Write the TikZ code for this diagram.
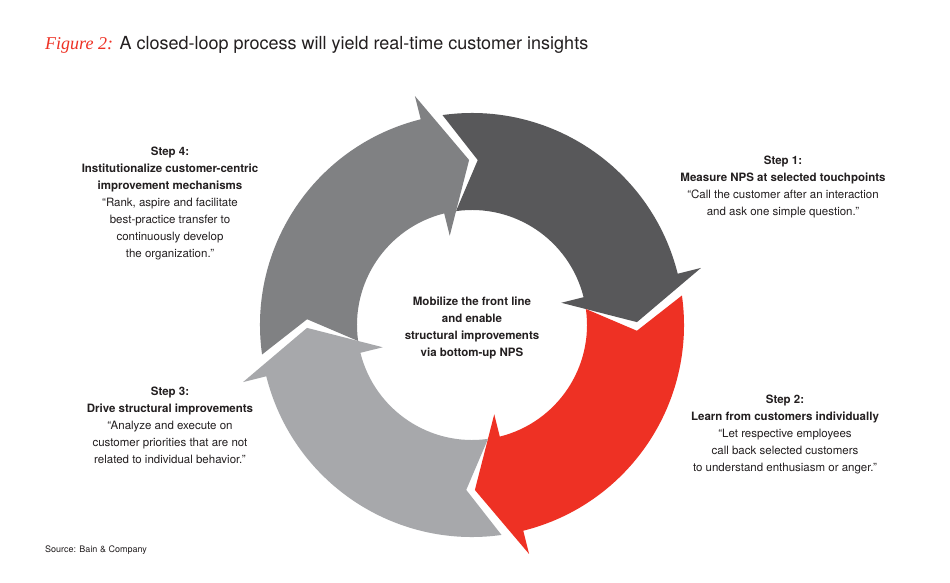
\documentclass[tikz,border=0pt]{standalone}
\usepackage{fontspec}
\setmainfont{TeX Gyre Heros}
\newfontfamily\scriptfnt{Liberation Serif}
\definecolor{cdark}{HTML}{58585A}
\definecolor{cred}{HTML}{EE3124}
\definecolor{cmid}{HTML}{808183}
\definecolor{clight}{HTML}{A7A8AB}
\definecolor{ctext}{HTML}{231F20}
\newcommand\cycarrow[2]{%
 \fill[#2] (#1:212pt) arc[start angle=#1, end angle=#1-84, radius=212pt]
   -- ({#1-84}:236pt) -- ({#1-97}:165pt) -- ({#1-84}:92pt) -- ({#1-84}:115pt)
   arc[start angle=#1-84, end angle=#1, radius=115pt] -- ({#1-10}:165pt) -- cycle;}
\tikzset{lbl/.style={align=center, text=ctext, font=\fontsize{11.5}{17}\selectfont, inner sep=0pt}}
\begin{document}
\begin{tikzpicture}[x=1pt,y=1pt]
\useasboundingbox[fill=white] (-472,-257) rectangle (478,325);
\cycarrow{98}{cdark}
\cycarrow{8}{cred}
\cycarrow{-82}{clight}
\cycarrow{188}{cmid}
\node[anchor=west, inner sep=0pt] (title) at (-427,280)
 {\fontsize{18}{20}\selectfont{\scriptfnt\itshape\color{cred}Figure 2:} \color{ctext}A closed-loop process will yield real-time customer insights};
\node[lbl] (center) at (0,-3) {\textbf{Mobilize the front line}\\ \textbf{and enable}\\ \textbf{structural improvements}\\ \textbf{via bottom-up NPS}};
\node[lbl] (s1) at (311,138) {\textbf{Step 1:}\\ \textbf{Measure NPS at selected touchpoints}\\ “Call the customer after an interaction\\ and ask one simple question.”};
\node[lbl] (s2) at (313,-109) {\textbf{Step 2:}\\ \textbf{Learn from customers individually}\\ “Let respective employees\\ call back selected customers\\ to understand enthusiasm or anger.”};
\node[lbl] (s3) at (-302,-100) {\textbf{Step 3:}\\ \textbf{Drive structural improvements}\\ “Analyze and execute on\\ customer priorities that are not\\ related to individual behavior.”};
\node[lbl] (s4) at (-302,122) {\textbf{Step 4:}\\ \textbf{Institutionalize customer-centric}\\ \textbf{improvement mechanisms}\\ “Rank, aspire and facilitate\\ best-practice transfer to\\ continuously develop\\ the organization.”};
\node[anchor=west, inner sep=0pt, text=ctext, font=\fontsize{9}{11}\selectfont] (src) at (-427,-225) {Source: Bain \& Company};
\end{tikzpicture}
\end{document}
